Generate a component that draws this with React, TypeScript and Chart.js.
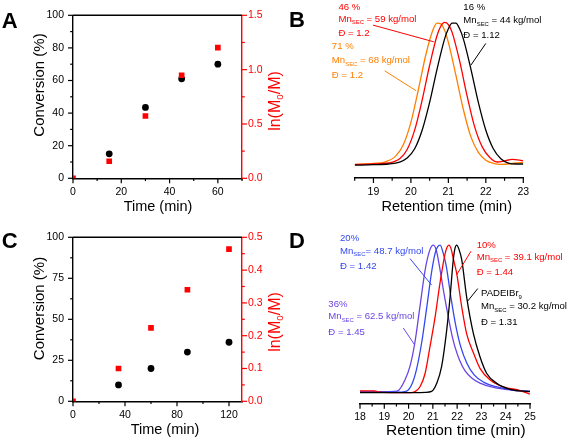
import { useEffect, useRef } from 'react';
import { Chart, registerables } from 'chart.js';

Chart.register(...registerables);

const FONT = '"Liberation Sans", Arial, Helvetica, sans-serif';
Chart.defaults.font.family = FONT;

// ---------------- Panel A : kinetics ----------------
const timeConvA = [15, 30, 45, 60];
const convA = [15, 43.5, 61, 70];
const timeLnA = [0, 15, 30, 45, 60];
const lnA = [0, 0.157, 0.573, 0.948, 1.203];
const ticksTimeA = [0, 20, 40, 60];
const ticksConvA = [0, 20, 40, 60, 80, 100];
const ticksLnA = [0, 0.5, 1.0, 1.5];

// ---------------- Panel C : kinetics ----------------
const timeConvC = [35, 60, 88, 120];
const convC = [10, 20, 30, 36];
const timeLnC = [0, 35, 60, 88, 120];
const lnC = [0, 0.1, 0.224, 0.34, 0.464];
const ticksTimeC = [0, 40, 80, 120];
const ticksConvC = [0, 25, 50, 75, 100];
const ticksLnC = [0, 0.1, 0.2, 0.3, 0.4, 0.5];

// ---------------- Panel B : SEC traces [retention time (min), normalised signal] ----------------
type Pt = [number, number];
const secB16: Pt[] = [
  [18.5, 0.0], [19.0, 0.003], [19.4, 0.008], [19.7, 0.022], [19.9, 0.05], [20.1, 0.115], [20.3, 0.245],
  [20.5, 0.44], [20.7, 0.675], [20.9, 0.885], [21.0, 0.955], [21.1, 0.995], [21.2, 0.995], [21.3, 0.955],
  [21.4, 0.885], [21.6, 0.675], [21.8, 0.44], [22.0, 0.245], [22.2, 0.115], [22.4, 0.045], [22.6, 0.015],
  [22.8, 0.008], [23.0, 0.008],
];
const secB46: Pt[] = [
  [18.5, 0.005], [19.0, 0.008], [19.4, 0.015], [19.7, 0.045], [19.9, 0.11], [20.1, 0.245], [20.3, 0.455],
  [20.5, 0.7], [20.7, 0.91], [20.8, 0.975], [20.9, 1.0], [21.0, 0.985], [21.1, 0.93], [21.3, 0.73],
  [21.5, 0.485], [21.7, 0.27], [21.9, 0.13], [22.1, 0.055], [22.3, 0.022], [22.5, 0.03], [22.7, 0.04],
  [22.9, 0.035], [23.0, 0.03],
];
const secB71: Pt[] = [
  [18.5, 0.004], [19.0, 0.012], [19.3, 0.022], [19.6, 0.065], [19.8, 0.145], [20.0, 0.3], [20.2, 0.53],
  [20.4, 0.775], [20.6, 0.955], [20.7, 0.995], [20.8, 0.99], [20.9, 0.945], [21.0, 0.86], [21.2, 0.63],
  [21.4, 0.39], [21.6, 0.2], [21.8, 0.09], [22.0, 0.035], [22.2, 0.013], [22.4, 0.006], [22.6, 0.008],
  [22.8, 0.015], [23.0, 0.018],
];
const ticksRetB = [19, 20, 21, 22, 23];

// ---------------- Panel D : SEC traces ----------------
const secD0: Pt[] = [
  [18.0, 0.0], [19.0, 0.0], [20.0, 0.0], [20.7, 0.002], [20.95, 0.008], [21.16, 0.063], [21.36, 0.176],
  [21.57, 0.424], [21.71, 0.65], [21.84, 0.9], [21.9, 0.97], [21.98, 1.0], [22.08, 0.97], [22.19, 0.9],
  [22.39, 0.65], [22.67, 0.4], [22.94, 0.244], [23.22, 0.13], [23.63, 0.063], [24.18, 0.023],
  [24.86, 0.008], [25.0, 0.007],
];
const secD10: Pt[] = [
  [18.0, 0.012], [18.6, 0.012], [18.8, 0.003], [19.5, 0.0], [20.1, 0.0], [20.26, 0.007], [20.47, 0.04],
  [20.68, 0.13], [20.88, 0.31], [21.09, 0.51], [21.29, 0.74], [21.5, 0.94], [21.58, 0.985], [21.66, 1.0],
  [21.76, 0.97], [21.84, 0.91], [21.98, 0.81], [22.19, 0.58], [22.39, 0.4], [22.67, 0.27], [22.94, 0.165],
  [23.36, 0.086], [23.9, 0.04], [24.6, 0.014], [25.0, -0.01],
];
const secD20: Pt[] = [
  [18.0, 0.005], [19.0, 0.005], [19.7, 0.004], [19.92, 0.01], [20.13, 0.055], [20.33, 0.16], [20.54, 0.34],
  [20.75, 0.58], [20.95, 0.82], [21.1, 0.95], [21.2, 0.99], [21.3, 1.0], [21.42, 0.95], [21.55, 0.86],
  [21.75, 0.64], [21.95, 0.45], [22.15, 0.31], [22.4, 0.2], [22.7, 0.12], [23.1, 0.07], [23.6, 0.04],
  [24.2, 0.02], [25.0, 0.008],
];
const secD36: Pt[] = [
  [18.0, 0.008], [19.0, 0.006], [19.4, 0.008], [19.58, 0.015], [19.85, 0.086], [20.06, 0.18], [20.26, 0.34],
  [20.47, 0.585], [20.68, 0.83], [20.88, 0.97], [21.02, 1.0], [21.15, 0.96], [21.29, 0.84], [21.45, 0.68],
  [21.64, 0.51], [21.8, 0.38], [21.91, 0.31], [22.1, 0.22], [22.32, 0.15], [22.6, 0.1], [22.94, 0.065],
  [23.5, 0.035], [24.2, 0.018], [25.0, 0.01],
];
const ticksRetD = [18, 19, 20, 21, 22, 23, 24, 25];

// ---------------- colours ----------------
const BLACK = '#000000';
const RED = '#ff0000';
const ORANGE = '#ff7f00';
const BLUE = '#3348f0';
const PURPLE = '#6a45e6';

// ---------------- helpers ----------------
type Seg = { t: string; sub?: boolean };
interface TextItem {
  segs: Seg[];
  x: number;
  y: number;
  color: string;
  size: number;
  bold?: boolean;
  rotate?: boolean;
  align?: 'left' | 'center';
  baseline?: CanvasTextBaseline;
  data?: boolean; // x/y in data units
}
interface Pointer { x1: number; y1: number; x2: number; y2: number; color: string }
interface TickSpec { axis: string; side: 'bottom' | 'left' | 'right'; major: number[]; color: string }
interface DecorSpec { texts: TextItem[]; pointers: Pointer[]; ticks: TickSpec[]; topBorder?: boolean }

const isIn = (arr: number[], v: number) => arr.some((m) => Math.abs(m - v) < 1e-6);

function drawSegs(ctx: CanvasRenderingContext2D, it: TextItem, x: number, y: number) {
  const weight = it.bold ? 'bold ' : '';
  ctx.fillStyle = it.color;
  ctx.textBaseline = it.baseline || 'alphabetic';
  ctx.textAlign = 'left';
  const parts = it.segs.map((s) => {
    const fs = s.sub ? it.size * 0.62 : it.size;
    ctx.font = `${weight}${fs}px ${FONT}`;
    return { s, fs, w: ctx.measureText(s.t).width };
  });
  const total = parts.reduce((a, p) => a + p.w, 0);
  let cx = it.align === 'center' ? x - total / 2 : x;
  for (const p of parts) {
    ctx.font = `${weight}${p.fs}px ${FONT}`;
    ctx.fillText(p.s.t, cx, y + (p.s.sub ? it.size * 0.28 : 0));
    cx += p.w;
  }
}

function decorPlugin(spec: DecorSpec) {
  return {
    id: 'decor',
    afterDraw(chart: any) {
      const ctx: CanvasRenderingContext2D = chart.ctx;
      const area = chart.chartArea;
      const sx = chart.scales.x;
      const sy = chart.scales.y;
      ctx.save();
      // tick marks
      ctx.lineWidth = 1.2;
      for (const t of spec.ticks) {
        const sc = chart.scales[t.axis];
        ctx.strokeStyle = t.color;
        for (const tk of sc.ticks) {
          const maj = isIn(t.major, tk.value);
          const len = maj ? 5 : 2.8;
          const p = sc.getPixelForValue(tk.value);
          ctx.beginPath();
          if (t.side === 'bottom') {
            ctx.moveTo(p, area.bottom);
            ctx.lineTo(p, area.bottom + len);
          } else if (t.side === 'left') {
            ctx.moveTo(area.left, p);
            ctx.lineTo(area.left - len, p);
          } else {
            ctx.moveTo(area.right, p);
            ctx.lineTo(area.right + len, p);
          }
          ctx.stroke();
        }
      }
      if (spec.topBorder) {
        ctx.strokeStyle = BLACK;
        ctx.lineWidth = 1.4;
        ctx.beginPath();
        ctx.moveTo(area.left, area.top);
        ctx.lineTo(area.right, area.top);
        ctx.stroke();
      }
      // pointer lines
      ctx.lineWidth = 1;
      for (const pt of spec.pointers) {
        ctx.strokeStyle = pt.color;
        ctx.beginPath();
        ctx.moveTo(sx.getPixelForValue(pt.x1), sy.getPixelForValue(pt.y1));
        ctx.lineTo(sx.getPixelForValue(pt.x2), sy.getPixelForValue(pt.y2));
        ctx.stroke();
      }
      // texts
      for (const it of spec.texts) {
        const x = it.data ? sx.getPixelForValue(it.x) : it.x;
        const y = it.data ? sy.getPixelForValue(it.y) : it.y;
        ctx.save();
        if (it.rotate) {
          ctx.translate(x, y);
          ctx.rotate(-Math.PI / 2);
          drawSegs(ctx, it, 0, 0);
        } else {
          drawSegs(ctx, it, x, y);
        }
        ctx.restore();
      }
      ctx.restore();
    },
  };
}

function linAxis(o: {
  position: string;
  min: number;
  max: number;
  major: number[];
  minorStep: number;
  color: string;
  fmt: (v: number) => string;
  size: number;
  padding: number;
  display?: boolean;
}) {
  const vals: number[] = [];
  for (let v = o.min; v <= o.max + 1e-9; v += o.minorStep) vals.push(+v.toFixed(6));
  const horizontal = o.position === 'bottom';
  return {
    type: 'linear',
    position: o.position,
    min: o.min,
    max: o.max,
    display: o.display === undefined ? true : o.display,
    grid: { display: true, drawOnChartArea: false, drawTicks: false },
    border: { display: true, color: o.color, width: 1.4 },
    ticks: {
      color: o.color,
      font: { size: 10.5, family: FONT },
      padding: o.padding,
      autoSkip: false,
      maxRotation: 0,
      callback: (v: number) => (isIn(o.major, v) ? o.fmt(v) : ''),
    },
    afterBuildTicks: (s: any) => {
      s.ticks = vals.map((v) => ({ value: v }));
    },
    afterFit: (s: any) => {
      if (horizontal) s.height = o.size;
      else s.width = o.size;
    },
  };
}

const title = (segs: Seg[], x: number, y: number, size: number, color = BLACK, rotate = false): TextItem => ({
  segs, x, y, size, color, rotate, align: 'center', baseline: 'middle',
});
const letter = (t: string, x: number, y: number): TextItem => ({
  segs: [{ t }], x, y, size: 22, bold: true, color: BLACK, align: 'left', baseline: 'alphabetic',
});
const note = (segs: Seg[], x: number, y: number, color: string): TextItem => ({
  segs, x, y, color, size: 9.6, align: 'left', baseline: 'alphabetic', data: true,
});
const mn = (rest: string): Seg[] => [{ t: 'Mn' }, { t: 'SEC', sub: true }, { t: rest }];

function kineticsConfig(p: {
  convT: number[]; conv: number[]; lnT: number[]; ln: number[];
  xMax: number; xMajor: number[]; xMinor: number;
  convMajor: number[]; convMinor: number;
  lnMax: number; lnMajor: number[]; lnMinor: number;
  xHeight: number; letterTxt: string; letterY: number;
  convTitleY: number; lnTitleY: number; timeTitleX: number; timeTitleY: number;
}) {
  return {
    type: 'scatter',
    data: {
      datasets: [
        {
          label: 'ln(M0/M)',
          data: p.lnT.map((t, i) => ({ x: t, y: p.ln[i] })),
          yAxisID: 'y2',
          pointStyle: 'rect',
          pointRadius: 4,
          backgroundColor: RED,
          borderColor: RED,
          borderWidth: 0,
          clip: 0,
        },
        {
          label: 'Conversion',
          data: p.convT.map((t, i) => ({ x: t, y: p.conv[i] })),
          yAxisID: 'y',
          pointStyle: 'circle',
          pointRadius: 3.4,
          backgroundColor: BLACK,
          borderColor: BLACK,
          borderWidth: 0,
        },
      ],
    },
    options: {
      responsive: false,
      animation: false,
      events: [],
      layout: { padding: { top: 10, left: 0, right: 0, bottom: 0 } },
      plugins: { legend: { display: false }, tooltip: { enabled: false } },
      scales: {
        x: linAxis({ position: 'bottom', min: 0, max: p.xMax, major: p.xMajor, minorStep: p.xMinor, color: BLACK, fmt: (v) => String(v), size: p.xHeight, padding: 8 }),
        y: linAxis({ position: 'left', min: 0, max: 100, major: p.convMajor, minorStep: p.convMinor, color: BLACK, fmt: (v) => String(v), size: 73, padding: 9 }),
        y2: linAxis({ position: 'right', min: 0, max: p.lnMax, major: p.lnMajor, minorStep: p.lnMinor, color: RED, fmt: (v) => v.toFixed(1), size: 43, padding: 6 }),
      },
    },
    plugins: [
      decorPlugin({
        topBorder: true,
        pointers: [],
        ticks: [
          { axis: 'x', side: 'bottom', major: p.xMajor, color: BLACK },
          { axis: 'y', side: 'left', major: p.convMajor, color: BLACK },
          { axis: 'y2', side: 'right', major: p.lnMajor, color: RED },
        ],
        texts: [
          letter(p.letterTxt, 1.7, p.letterY),
          title([{ t: 'Conversion (%)' }], 40, p.convTitleY, 15, BLACK, true),
          title([{ t: 'ln(M' }, { t: '0', sub: true }, { t: '/M)' }], 276, p.lnTitleY, 16, RED, true),
          title([{ t: 'Time (min)' }], p.timeTitleX, p.timeTitleY, 14.5),
        ],
      }),
    ],
  };
}

function secConfig(p: {
  series: { pts: Pt[]; color: string }[];
  xMin: number; xMax: number; major: number[];
  padding: { top: number; left: number; right: number };
  yMin: number; yMax: number; xHeight: number; tickPad: number;
  texts: TextItem[]; pointers: Pointer[];
}) {
  return {
    type: 'line',
    data: {
      datasets: p.series.map((s) => ({
        data: s.pts.map(([x, y]) => ({ x, y })),
        borderColor: s.color,
        borderWidth: 1.3,
        pointRadius: 0,
        fill: false,
        cubicInterpolationMode: 'monotone',
      })),
    },
    options: {
      responsive: false,
      animation: false,
      events: [],
      layout: { padding: { ...p.padding, bottom: 0 } },
      plugins: { legend: { display: false }, tooltip: { enabled: false } },
      scales: {
        x: linAxis({ position: 'bottom', min: p.xMin, max: p.xMax, major: p.major, minorStep: 0.5, color: BLACK, fmt: (v) => String(v), size: p.xHeight, padding: p.tickPad }),
        y: { type: 'linear', display: false, min: p.yMin, max: p.yMax },
      },
    },
    plugins: [decorPlugin({ ticks: [{ axis: 'x', side: 'bottom', major: p.major, color: BLACK }], texts: p.texts, pointers: p.pointers })],
  };
}

const configA = () =>
  kineticsConfig({
    convT: timeConvA, conv: convA, lnT: timeLnA, ln: lnA,
    xMax: 70, xMajor: ticksTimeA, xMinor: 10,
    convMajor: ticksConvA, convMinor: 10,
    lnMax: 1.5, lnMajor: ticksLnA, lnMinor: 0.25,
    xHeight: 43.7, letterTxt: 'A', letterY: 28.3,
    convTitleY: 85, lnTitleY: 101, timeTitleX: 158, timeTitleY: 207,
  });

const configC = () =>
  kineticsConfig({
    convT: timeConvC, conv: convC, lnT: timeLnC, ln: lnC,
    xMax: 130, xMajor: ticksTimeC, xMinor: 20,
    convMajor: ticksConvC, convMinor: 12.5,
    lnMax: 0.5, lnMajor: ticksLnC, lnMinor: 0.05,
    xHeight: 42.7, letterTxt: 'C', letterY: 25.5,
    convTitleY: 86.5, lnTitleY: 100, timeTitleX: 165, timeTitleY: 208,
  });

const configB = () =>
  secConfig({
    series: [
      { pts: secB16, color: BLACK },
      { pts: secB46, color: RED },
      { pts: secB71, color: ORANGE },
    ],
    xMin: 18.5, xMax: 23, major: ticksRetB,
    padding: { top: 1, left: 69.7, right: 45.7 },
    yMin: -0.09, yMax: 1.15, xHeight: 44, tickPad: 8,
    pointers: [
      { x1: 18.99, y1: 0.981, x2: 20.61, y2: 0.864, color: RED },
      { x1: 19.3, y1: 0.661, x2: 20.14, y2: 0.521, color: ORANGE },
      { x1: 22.0, y1: 0.853, x2: 21.6, y2: 0.7, color: BLACK },
    ],
    texts: [
      letter('B', 4, 26.7),
      note([{ t: '46 %' }], 18.065, 1.09, RED),
      note(mn(' = 59 kg/mol'), 18.065, 1.005, RED),
      note([{ t: 'Đ = 1.2' }], 18.065, 0.904, RED),
      note([{ t: '71 %' }], 17.89, 0.811, ORANGE),
      note(mn(' = 68 kg/mol'), 17.89, 0.713, ORANGE),
      note([{ t: 'Đ = 1.2' }], 17.89, 0.612, ORANGE),
      note([{ t: '16 %' }], 21.4, 1.086, BLACK),
      note(mn(' = 44 kg/mol'), 21.4, 0.997, BLACK),
      note([{ t: 'Đ = 1.12' }], 21.4, 0.89, BLACK),
      title([{ t: 'Retention time (min)' }], 161.7, 207, 14.5),
    ],
  });

const configD = () =>
  secConfig({
    series: [
      { pts: secD0, color: BLACK },
      { pts: secD10, color: RED },
      { pts: secD20, color: BLUE },
      { pts: secD36, color: PURPLE },
    ],
    xMin: 18, xMax: 25, major: ticksRetD,
    padding: { top: 1.1, left: 75, right: 39 },
    yMin: -0.075, yMax: 1.15, xHeight: 40.3, tickPad: 7,
    pointers: [
      { x1: 20.06, y1: 0.909, x2: 20.95, y2: 0.729, color: BLUE },
      { x1: 19.78, y1: 0.439, x2: 20.26, y2: 0.322, color: PURPLE },
      { x1: 22.57, y1: 0.959, x2: 21.98, y2: 0.8, color: RED },
      { x1: 22.85, y1: 0.706, x2: 22.43, y2: 0.62, color: BLACK },
    ],
    texts: [
      letter('D', 4, 25.5),
      note([{ t: '20%' }], 17.177, 1.027, BLUE),
      note(mn('= 48.7 kg/mol'), 17.177, 0.943, BLUE),
      note([{ t: 'Đ = 1.42' }], 17.177, 0.841, BLUE),
      note([{ t: '36%' }], 16.695, 0.581, PURPLE),
      note(mn(' = 62.5 kg/mol'), 16.695, 0.498, PURPLE),
      note([{ t: 'Đ = 1.45' }], 16.695, 0.393, PURPLE),
      note([{ t: '10%' }], 22.804, 0.982, RED),
      note(mn(' = 39.1 kg/mol'), 22.804, 0.902, RED),
      note([{ t: 'Đ = 1.44' }], 22.804, 0.801, RED),
      note([{ t: 'PADEIBr' }, { t: '9', sub: true }], 22.98, 0.656, BLACK),
      note(mn(' = 30.2 kg/mol'), 22.98, 0.566, BLACK),
      note([{ t: 'Đ = 1.31' }], 22.98, 0.461, BLACK),
      title([{ t: 'Retention time (min)' }], 170.8, 209, 15.5),
    ],
  });

function Panel({ left, top, width, height, build }: { left: number; top: number; width: number; height: number; build: () => any }) {
  const ref = useRef<HTMLCanvasElement>(null);
  useEffect(() => {
    const chart = new Chart(ref.current as HTMLCanvasElement, build());
    return () => chart.destroy();
  }, []);
  return (
    <canvas
      ref={ref}
      width={width}
      height={height}
      style={{ position: 'absolute', left, top, width, height, display: 'block' }}
    />
  );
}

export default function App() {
  return (
    <div style={{ position: 'absolute', left: 0, top: 0, width: 569, height: 444, background: '#ffffff', overflow: 'hidden' }}>
      <Panel left={0} top={0} width={285} height={222} build={configA} />
      <Panel left={285} top={0} width={284} height={222} build={configB} />
      <Panel left={0} top={222} width={285} height={222} build={configC} />
      <Panel left={285} top={222} width={284} height={222} build={configD} />
    </div>
  );
}
